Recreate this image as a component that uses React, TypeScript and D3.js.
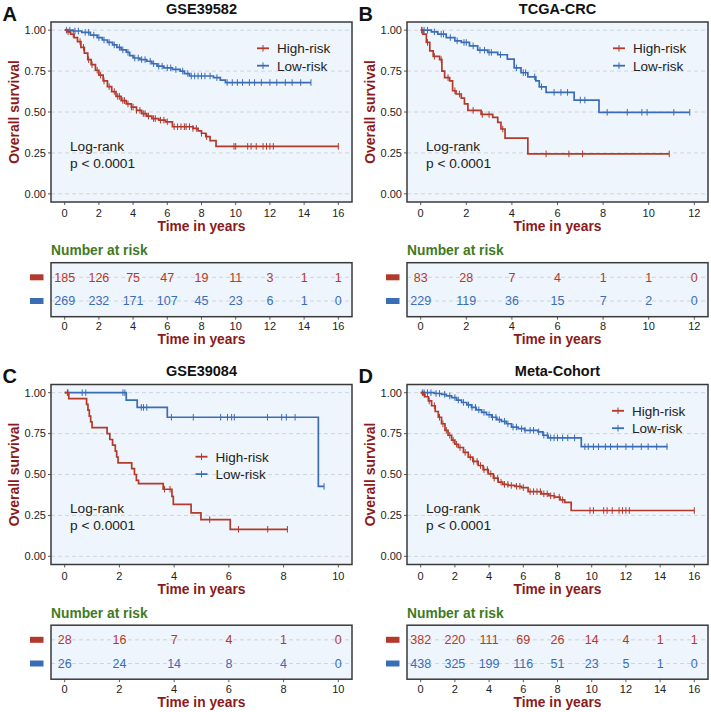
import React from "react";
import * as d3 from "d3";

// ---------- DATA ----------
const highColor = "#B33A2B";
const lowColor = "#3B6DB7";

// GSE39582
const aHigh: [number, number][] = [[0,1],[0.15,0.99],[0.35,0.975],[0.55,0.955],[0.75,0.93],[0.95,0.895],[1.15,0.86],[1.35,0.82],[1.55,0.79],[1.8,0.755],[2.0,0.725],[2.25,0.69],[2.5,0.655],[2.75,0.625],[3.0,0.595],[3.3,0.57],[3.6,0.55],[3.9,0.53],[4.2,0.51],[4.5,0.49],[4.8,0.475],[5.1,0.46],[5.5,0.45],[5.9,0.44],[6.3,0.41],[7.5,0.4],[7.8,0.385],[8.0,0.37],[8.25,0.35],[8.5,0.325],[8.85,0.29]];
const aHighEnd = 16;
const aHighCens = [0.2,0.5,0.9,1.1,1.4,1.6,1.9,2.1,2.3,2.6,2.9,3.1,3.2,3.4,3.5,3.7,3.9,4.0,4.2,4.4,4.6,4.7,4.9,5.2,5.3,5.6,5.8,6.0,6.4,6.6,6.8,7.0,7.1,7.3,7.5,7.7,8.0,8.3,9.9,10.0,10.7,10.9,11.2,11.6,11.8,12.0,12.2,16.0];
const aLow: [number, number][] = [[0,1],[0.5,0.995],[1.0,0.987],[1.5,0.97],[1.9,0.955],[2.2,0.94],[2.5,0.925],[2.8,0.91],[3.05,0.895],[3.3,0.88],[3.6,0.865],[3.8,0.845],[4.0,0.83],[4.4,0.82],[4.8,0.81],[5.1,0.795],[5.4,0.78],[5.8,0.77],[6.3,0.76],[6.75,0.75],[7.0,0.735],[7.3,0.72],[8.7,0.71],[9.1,0.695],[9.4,0.68]];
const aLowEnd = 14.4;
const aLowCens = [0.1,0.3,0.6,0.8,1.2,1.4,1.7,2.0,2.3,2.6,2.9,3.2,3.4,3.7,4.1,4.3,4.5,4.7,5.0,5.2,5.5,5.7,6.0,6.2,6.5,6.9,7.2,7.4,7.6,7.8,8.0,8.2,8.5,8.9,9.5,9.8,10.1,10.4,10.8,11.1,11.5,12.0,12.4,12.9,13.3,13.8,14.4];
const aRiskHigh = [185,126,75,47,19,11,3,1,1];
const aRiskLow = [269,232,171,107,45,23,6,1,0];

// TCGA-CRC
const bHigh: [number, number][] = [[0,1],[0.1,0.976],[0.25,0.925],[0.4,0.874],[0.55,0.84],[0.83,0.82],[0.93,0.75],[1.05,0.71],[1.27,0.69],[1.4,0.63],[1.55,0.61],[1.78,0.585],[1.92,0.55],[2.07,0.51],[2.65,0.485],[3.16,0.467],[3.38,0.437],[3.52,0.396],[3.7,0.34],[4.7,0.244]];
const bHighEnd = 10.9;
const bHighCens = [0.05,0.3,0.6,0.9,1.2,1.5,1.7,2.3,2.7,3.0,3.6,5.5,6.5,7.1,10.9];
const bLow: [number, number][] = [[0,1],[0.47,0.99],[0.75,0.976],[1.12,0.955],[1.5,0.935],[1.78,0.925],[2.14,0.904],[2.5,0.878],[2.94,0.864],[3.38,0.85],[3.8,0.823],[4.1,0.77],[4.4,0.74],[4.7,0.715],[5.05,0.69],[5.2,0.654],[5.5,0.62],[6.73,0.573],[7.82,0.498]];
const bLowEnd = 11.8;
const bLowCens = [0.05,0.15,0.3,0.6,0.9,1.0,1.3,1.6,1.9,2.0,2.3,2.6,2.8,3.0,3.1,3.5,4.2,4.5,4.6,5.0,5.3,5.85,6.15,6.44,7.0,7.2,8.18,9.06,9.7,9.93,11.1,11.8];
const bRiskHigh = [83,28,7,4,1,1,0];
const bRiskLow = [229,119,36,15,7,2,0];

// GSE39084
const cHigh: [number, number][] = [[0,1],[0.15,0.964],[0.8,0.929],[0.85,0.893],[0.9,0.857],[0.95,0.821],[1.0,0.786],[1.55,0.75],[1.65,0.714],[1.75,0.679],[1.85,0.643],[1.9,0.607],[1.95,0.571],[2.45,0.536],[2.55,0.5],[2.62,0.464],[2.7,0.444],[3.6,0.41],[3.92,0.366],[3.97,0.317],[4.62,0.266],[4.98,0.224],[6.05,0.165]];
const cHighEnd = 8.14;
const cHighCens = [0.1,3.65,3.85,5.3,6.35,7.42,8.14];
const cLow: [number, number][] = [[0,1],[2.25,0.955],[2.65,0.91],[3.75,0.85],[9.27,0.427]];
const cLowEnd = 9.48;
const cLowCens = [0.12,0.64,0.77,2.13,2.2,2.8,2.88,3.0,3.9,4.7,5.7,5.95,6.1,6.2,7.41,7.93,8.1,8.42,9.48];
const cRiskHigh = [28,16,7,4,1,0];
const cRiskLow = [26,24,14,8,4,0];

// Meta-Cohort
const dHigh: [number, number][] = [[0,1],[0.12,0.99],[0.25,0.975],[0.45,0.95],[0.64,0.92],[0.85,0.885],[1.03,0.85],[1.22,0.81],[1.42,0.77],[1.6,0.74],[1.81,0.71],[2.0,0.685],[2.2,0.665],[2.5,0.635],[2.78,0.606],[3.05,0.58],[3.36,0.555],[3.65,0.53],[3.95,0.504],[4.25,0.478],[4.53,0.453],[4.8,0.44],[5.11,0.433],[5.5,0.428],[5.89,0.42],[6.28,0.395],[7.06,0.382],[7.5,0.37],[7.83,0.362],[8.15,0.345],[8.42,0.33],[8.8,0.28]];
const dHighEnd = 16;
const dHighCens = [0.2,0.5,0.8,1.1,1.3,1.5,1.7,1.9,2.1,2.3,2.6,2.9,3.1,3.3,3.5,3.7,3.9,4.1,4.3,4.5,4.7,4.9,5.1,5.3,5.6,5.8,6.0,6.4,6.6,6.8,7.0,7.2,7.4,7.6,7.8,8.1,8.3,9.9,10.1,10.7,10.9,11.2,11.6,11.8,12.0,12.2,16.0];
const dLow: [number, number][] = [[0,1],[0.8,0.995],[1.22,0.99],[1.5,0.98],[1.81,0.97],[2.1,0.955],[2.39,0.94],[2.7,0.925],[2.97,0.91],[3.25,0.895],[3.56,0.88],[3.85,0.865],[4.14,0.85],[4.45,0.835],[4.72,0.825],[5.0,0.81],[5.31,0.79],[5.7,0.78],[6.08,0.77],[6.86,0.76],[7.15,0.74],[7.45,0.724],[9.39,0.67]];
const dLowEnd = 14.44;
const dLowCens = [0.1,0.2,0.4,0.6,0.9,1.1,1.4,1.7,2.0,2.2,2.5,2.8,3.0,3.2,3.4,3.7,4.0,4.2,4.4,4.6,4.9,5.1,5.4,5.6,5.9,6.1,6.4,6.6,6.9,7.2,7.4,7.6,7.8,8.0,8.3,8.6,9.0,9.6,9.8,10.1,10.4,10.8,11.1,11.5,12.0,12.4,12.9,13.3,13.8,14.4];
const dRiskHigh = [382,220,111,69,26,14,4,1,1];
const dRiskLow = [438,325,199,116,51,23,5,1,0];

const yTicks = [0, 0.25, 0.5, 0.75, 1];
const yTickLabels = ["0.00", "0.25", "0.50", "0.75", "1.00"];
const seriesNames = ["High-risk", "Low-risk"];

// ---------- LAYOUT ----------
const FONT = "'Liberation Sans', Arial, Helvetica, sans-serif";
const L = 51, R = 352, T = 22, B = 202;
const TT = 262.7, TB = 316.7;
const AXIS_RED = "#8B1A1A";
const GREEN = "#3F7B1F";
const BG = "#EEF5FC";

function survAt(steps: [number, number][], t: number) {
  let s = 1;
  for (const [st, sv] of steps) if (st <= t) s = sv;
  return s;
}

type PanelProps = {
  ox: number; oy: number; letter: string; title: string; xMax: number;
  high: [number, number][]; highEnd: number; highCens: number[];
  low: [number, number][]; lowEnd: number; lowCens: number[];
  riskHigh: number[]; riskLow: number[];
  legendX: number; legendY: number;
};

function Curve({ steps, end, cens, x, y, color }: any) {
  const pts: [number, number][] = [...steps, [end, steps[steps.length - 1][1]]];
  const line = d3.line<[number, number]>().x(d => x(d[0])).y(d => y(d[1])).curve(d3.curveStepAfter);
  return (
    <g>
      <path d={line(pts) || ""} fill="none" stroke={color} strokeWidth={1.7} />
      {cens.map((t: number, i: number) => {
        const cx = x(t), cy = y(survAt(steps, t));
        return (
          <g key={i} stroke={color} strokeWidth={1}>
            <line x1={cx} x2={cx} y1={cy - 3.3} y2={cy + 3.3} />
          </g>
        );
      })}
    </g>
  );
}

function Panel(p: PanelProps) {
  const x = d3.scaleLinear().domain([-0.05 * p.xMax, 1.05 * p.xMax]).range([L, R]);
  const y = d3.scaleLinear().domain([-0.05, 1.05]).range([B, T]);
  const xTicks = d3.range(0, p.xMax + 0.001, 2);
  const rowY = [277.3, 301];
  const cx = (L + R) / 2;
  return (
    <g transform={`translate(${p.ox},${p.oy})`} fontFamily={FONT}>
      <text x={2.5} y={20.5} fontSize={20} fontWeight="bold" fill="#111">{p.letter}</text>
      <text x={cx} y={13.8} fontSize={14.5} fontWeight="bold" textAnchor="middle" fill="#111">{p.title}</text>
      {/* plot */}
      <rect x={L} y={T} width={R - L} height={B - T} fill={BG} />
      {yTicks.map((v, i) => (
        <g key={i}>
          <line x1={L} x2={R} y1={y(v)} y2={y(v)} stroke="#C8CCD2" strokeWidth={0.8} strokeDasharray="4,3" />
          <line x1={L - 3} x2={L} y1={y(v)} y2={y(v)} stroke="#333" strokeWidth={0.8} />
          <text x={L - 5} y={y(v) + 3.9} fontSize={11} textAnchor="end" fill="#222">{yTickLabels[i]}</text>
        </g>
      ))}
      {xTicks.map((v, i) => (
        <g key={i}>
          <line x1={x(v)} x2={x(v)} y1={B} y2={B + 3} stroke="#333" strokeWidth={0.8} />
          <text x={x(v)} y={217} fontSize={11} textAnchor="middle" fill="#222">{v}</text>
        </g>
      ))}
      <Curve steps={p.low} end={p.lowEnd} cens={p.lowCens} x={x} y={y} color={lowColor} />
      <Curve steps={p.high} end={p.highEnd} cens={p.highCens} x={x} y={y} color={highColor} />
      <rect x={L} y={T} width={R - L} height={B - T} fill="none" stroke="#3a3a3a" strokeWidth={1.5} />
      <text x={cx} y={231} fontSize={13.8} fontWeight="bold" textAnchor="middle" fill={AXIS_RED}>Time in years</text>
      <text transform={`translate(18.5,${(T + B) / 2}) rotate(-90)`} fontSize={13.9} fontWeight="bold" textAnchor="middle" fill={AXIS_RED}>Overall survival</text>
      <text x={70} y={150.5} fontSize={13.7} fill="#222">Log-rank</text>
      <text x={70} y={167.5} fontSize={13.7} fill="#222">p &lt; 0.0001</text>
      {seriesNames.map((n, i) => {
        const ly = p.legendY + i * 17.4;
        const col = i === 0 ? highColor : lowColor;
        return (
          <g key={n}>
            <line x1={p.legendX} x2={p.legendX + 12} y1={ly} y2={ly} stroke={col} strokeWidth={1.8} />
            <line x1={p.legendX + 6} x2={p.legendX + 6} y1={ly - 3.3} y2={ly + 3.3} stroke={col} strokeWidth={1} />
            <text x={p.legendX + 20} y={ly + 4.8} fontSize={13.5} fill="#222">{n}</text>
          </g>
        );
      })}
      {/* risk table */}
      <text x={L} y={255} fontSize={13.8} fontWeight="bold" fill={GREEN}>Number at risk</text>
      <rect x={L} y={TT} width={R - L} height={TB - TT} fill={BG} />
      {rowY.map((ry, r) => (
        <g key={r}>
          <line x1={L} x2={R} y1={ry} y2={ry} stroke="#C8CCD2" strokeWidth={0.8} strokeDasharray="4,3" />
          <rect x={30} y={ry - 3} width={13.5} height={6} fill={r === 0 ? highColor : lowColor} />
          {(r === 0 ? p.riskHigh : p.riskLow).map((v, i) => (
            <text key={i} x={x(xTicks[i])} y={ry + 4.4} fontSize={12.5} textAnchor="middle" fill={r === 0 ? highColor : lowColor}>{v}</text>
          ))}
        </g>
      ))}
      <rect x={L} y={TT} width={R - L} height={TB - TT} fill="none" stroke="#3a3a3a" strokeWidth={1.5} />
      {xTicks.map((v, i) => (
        <g key={i}>
          <line x1={x(v)} x2={x(v)} y1={TB} y2={TB + 3} stroke="#333" strokeWidth={0.8} />
          <text x={x(v)} y={330} fontSize={11} textAnchor="middle" fill="#222">{v}</text>
        </g>
      ))}
      <text x={cx} y={344} fontSize={13.8} fontWeight="bold" textAnchor="middle" fill={AXIS_RED}>Time in years</text>
    </g>
  );
}

export default function App() {
  return (
    <svg width={711} height={712} style={{ position: "absolute", left: 0, top: 0, background: "#fff" }}>
      <Panel ox={0} oy={0} letter="A" title="GSE39582" xMax={16} high={aHigh} highEnd={aHighEnd} highCens={aHighCens}
        low={aLow} lowEnd={aLowEnd} lowCens={aLowCens} riskHigh={aRiskHigh} riskLow={aRiskLow} legendX={257} legendY={48.3} />
      <Panel ox={356} oy={0} letter="B" title="TCGA-CRC" xMax={12} high={bHigh} highEnd={bHighEnd} highCens={bHighCens}
        low={bLow} lowEnd={bLowEnd} lowCens={bLowCens} riskHigh={bRiskHigh} riskLow={bRiskLow} legendX={257} legendY={48.3} />
      <Panel ox={0} oy={362.5} letter="C" title="GSE39084" xMax={10} high={cHigh} highEnd={cHighEnd} highCens={cHighCens}
        low={cLow} lowEnd={cLowEnd} lowCens={cLowCens} riskHigh={cRiskHigh} riskLow={cRiskLow} legendX={195.5} legendY={94.2} />
      <Panel ox={356} oy={362.5} letter="D" title="Meta-Cohort" xMax={16} high={dHigh} highEnd={dHighEnd} highCens={dHighCens}
        low={dLow} lowEnd={dLowEnd} lowCens={dLowCens} riskHigh={dRiskHigh} riskLow={dRiskLow} legendX={256} legendY={48.3} />
    </svg>
  );
}
